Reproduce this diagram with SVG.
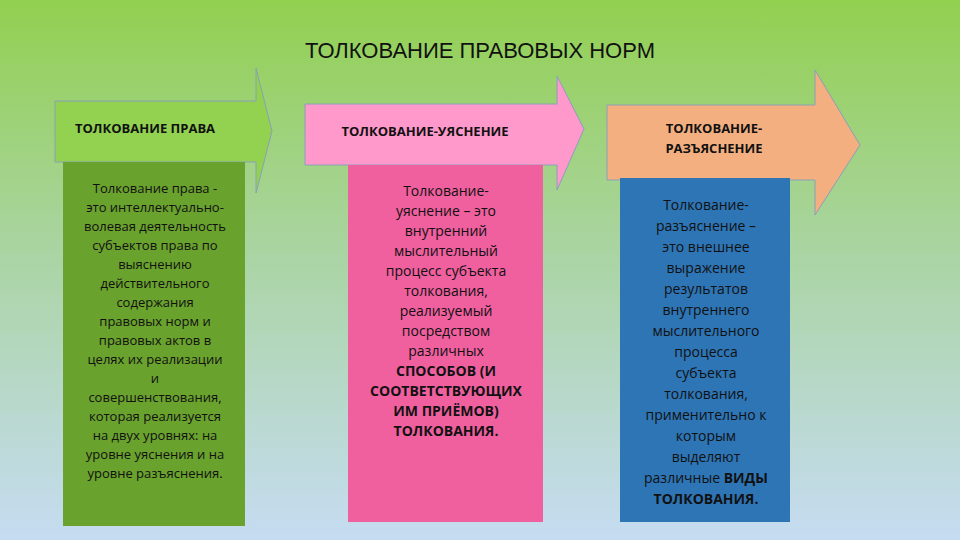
<svg xmlns="http://www.w3.org/2000/svg" width="960" height="540" viewBox="0 0 960 540">
<defs>
<linearGradient id="bg" x1="0" y1="0" x2="0" y2="1">
<stop offset="0" stop-color="#92d050"/><stop offset="0.45" stop-color="#a9d4a0"/><stop offset="1" stop-color="#c6dcf2"/>
</linearGradient>
</defs>
<style>
text{font-family:"Open Sans","DejaVu Sans",sans-serif;text-anchor:middle;fill:#111}
.h{font-size:13px;font-weight:bold}
.b{font-size:13px}
.arr{stroke:#8aa0b8;stroke-width:1}
</style>
<rect width="960" height="540" fill="url(#bg)"/>
<text x="480" y="58" style="font-size:22px;font-family:'Liberation Sans',sans-serif">ТОЛКОВАНИЕ ПРАВОВЫХ НОРМ</text>
<g id="node1">
<path class="arr" d="M55,101 H256 V68 L272,131 L256,193 V162 H55 Z" fill="#93d150"/>
<text class="h" x="145" y="133" style="font-family:'Open Sans',sans-serif">ТОЛКОВАНИЕ ПРАВА</text>
<rect x="63" y="162" width="182" height="364" fill="#6aa22e"/>
<text class="b" x="155" y="193">Толкование права -<tspan x="155" dy="19">это интеллектуально-</tspan><tspan x="155" dy="19">волевая деятельность</tspan><tspan x="155" dy="19">субъектов права по</tspan><tspan x="155" dy="19">выяснению</tspan><tspan x="155" dy="19">действительного</tspan><tspan x="155" dy="19">содержания</tspan><tspan x="155" dy="19">правовых норм и</tspan><tspan x="155" dy="19">правовых актов в</tspan><tspan x="155" dy="19">целях их реализации</tspan><tspan x="155" dy="19">и</tspan><tspan x="155" dy="19">совершенствования,</tspan><tspan x="155" dy="19">которая реализуется</tspan><tspan x="155" dy="19">на двух уровнях: на</tspan><tspan x="155" dy="19">уровне уяснения и на</tspan><tspan x="155" dy="19">уровне разъяснения.</tspan></text>
</g>
<g id="node2">
<path class="arr" d="M305,104 H557 V76 L584,129 L557,190 V165 H305 Z" fill="#ff99cc"/>
<text class="h" x="425" y="136">ТОЛКОВАНИЕ-УЯСНЕНИЕ</text>
<rect x="348" y="165" width="195" height="357" fill="#f0609f"/>
<text class="b" x="446" y="196" style="font-size:14px">Толкование-<tspan x="446" dy="20">уяснение – это</tspan><tspan x="446" dy="20">внутренний</tspan><tspan x="446" dy="20">мыслительный</tspan><tspan x="446" dy="20">процесс субъекта</tspan><tspan x="446" dy="20">толкования,</tspan><tspan x="446" dy="20">реализуемый</tspan><tspan x="446" dy="20">посредством</tspan><tspan x="446" dy="20">различных</tspan><tspan x="446" dy="20" font-weight="bold">СПОСОБОВ  (И</tspan><tspan x="446" dy="20" font-weight="bold">СООТВЕТСТВУЮЩИХ</tspan><tspan x="446" dy="20" font-weight="bold">ИМ ПРИЁМОВ)</tspan><tspan x="446" dy="20" font-weight="bold">ТОЛКОВАНИЯ.</tspan></text>
</g>
<g id="node3">
<path class="arr" d="M607,105 H815 V70 L860,145 L815,215 V180 H607 Z" fill="#f4af80"/>
<text class="h" x="714" y="133">ТОЛКОВАНИЕ-<tspan x="714" dy="20">РАЗЪЯСНЕНИЕ</tspan></text>
<rect x="620" y="178" width="170" height="344" fill="#2e75b6"/>
<text class="b" x="706" y="210" style="font-size:14px">Толкование-<tspan x="706" dy="21">разъяснение –</tspan><tspan x="706" dy="21">это внешнее</tspan><tspan x="706" dy="21">выражение</tspan><tspan x="706" dy="21">результатов</tspan><tspan x="706" dy="21">внутреннего</tspan><tspan x="706" dy="21">мыслительного</tspan><tspan x="706" dy="21">процесса</tspan><tspan x="706" dy="21">субъекта</tspan><tspan x="706" dy="21">толкования,</tspan><tspan x="706" dy="21">применительно к</tspan><tspan x="706" dy="21">которым</tspan><tspan x="706" dy="21">выделяют</tspan><tspan x="706" dy="21">различные <tspan font-weight="bold">ВИДЫ</tspan></tspan><tspan x="706" dy="21" font-weight="bold">ТОЛКОВАНИЯ.</tspan></text>
</g>
<g id="connectors"/>
</svg>
